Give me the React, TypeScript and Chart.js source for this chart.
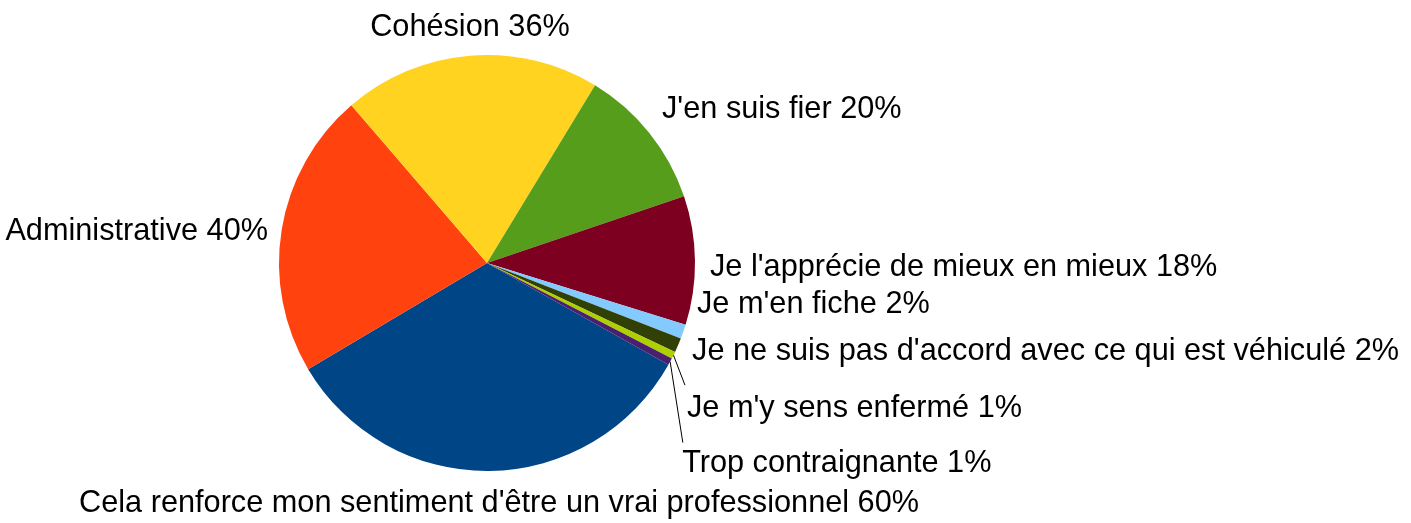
import React, { useEffect, useRef } from "react";
import { Chart, registerables } from "chart.js";

Chart.register(...registerables);

const categories: string[] = [
  "Cela renforce mon sentiment d'être un vrai professionnel",
  "Administrative",
  "Cohésion",
  "J'en suis fier",
  "Je l'apprécie de mieux en mieux",
  "Je m'en fiche",
  "Je ne suis pas d'accord avec ce qui est véhiculé",
  "Je m'y sens enfermé",
  "Trop contraignante",
];

const percentValues: number[] = [60, 40, 36, 20, 18, 2, 2, 1, 1];

const sliceColors: string[] = [
  "#004586",
  "#ff420e",
  "#ffd320",
  "#579d1c",
  "#7e0021",
  "#83caff",
  "#314004",
  "#aecf00",
  "#4b1f6f",
];

// Label layout: offset from the slice's outer mid-point, alignment and optional leader line end (relative to label anchor)
type LabelLayout = { dx: number; dy: number; align: CanvasTextAlign; leader?: [number, number] };
const labelLayout: LabelLayout[] = [
  { dx: 9.5, dy: 33, align: "center" },
  { dx: -13.7, dy: 2.4, align: "right" },
  { dx: 0, dy: -28.5, align: "center" },
  { dx: 12.7, dy: -23, align: "left" },
  { dx: 15, dy: 7.5, align: "left" },
  { dx: 13.7, dy: -27.7, align: "left" },
  { dx: 14, dy: 6.7, align: "left" },
  { dx: 13.5, dy: 53, align: "left", leader: [-2, -23] },
  { dx: 12, dy: 102, align: "left", leader: [0.7, -21] },
];

const LABEL_FONT = '30.7px "Liberation Sans", Arial, sans-serif';

const outsideLabels = {
  id: "outsideLabels",
  afterDatasetsDraw(chart: any) {
    const ctx: CanvasRenderingContext2D = chart.ctx;
    const meta = chart.getDatasetMeta(0);
    ctx.save();
    ctx.font = LABEL_FONT;
    ctx.fillStyle = "#000000";
    ctx.textBaseline = "middle";
    meta.data.forEach((arc: any, i: number) => {
      const mid = (arc.startAngle + arc.endAngle) / 2;
      const r = arc.outerRadius;
      const ex = arc.x + Math.cos(mid) * r;
      const ey = arc.y + Math.sin(mid) * r;
      const lay = labelLayout[i];
      const lx = ex + lay.dx;
      const ly = ey + lay.dy;
      if (lay.leader) {
        ctx.beginPath();
        ctx.strokeStyle = "#000000";
        ctx.lineWidth = 1;
        ctx.moveTo(ex, ey);
        ctx.lineTo(lx + lay.leader[0], ly + lay.leader[1]);
        ctx.stroke();
      }
      ctx.textAlign = lay.align;
      ctx.fillText(`${categories[i]} ${percentValues[i]}%`, lx, ly);
    });
    ctx.restore();
  },
};

export default function App() {
  const canvasRef = useRef<HTMLCanvasElement | null>(null);

  useEffect(() => {
    document.body.style.margin = "0";
    const canvas = canvasRef.current;
    if (!canvas) return;
    const chart = new Chart(canvas, {
      type: "pie",
      data: {
        labels: categories,
        datasets: [
          {
            data: percentValues,
            backgroundColor: sliceColors,
            borderWidth: 0,
            hoverOffset: 0,
          },
        ],
      },
      options: {
        animation: false,
        responsive: true,
        maintainAspectRatio: false,
        rotation: 119.3,
        layout: { padding: { left: 279, right: 716, top: 55, bottom: 52 } },
        events: [],
        plugins: {
          legend: { display: false },
          tooltip: { enabled: false },
        },
      },
      plugins: [outsideLabels],
    });
    return () => chart.destroy();
  }, []);

  return (
    <div style={{ position: "fixed", left: 0, top: 0, width: 1411, height: 523, background: "#ffffff" }}>
      <canvas ref={canvasRef} />
    </div>
  );
}
